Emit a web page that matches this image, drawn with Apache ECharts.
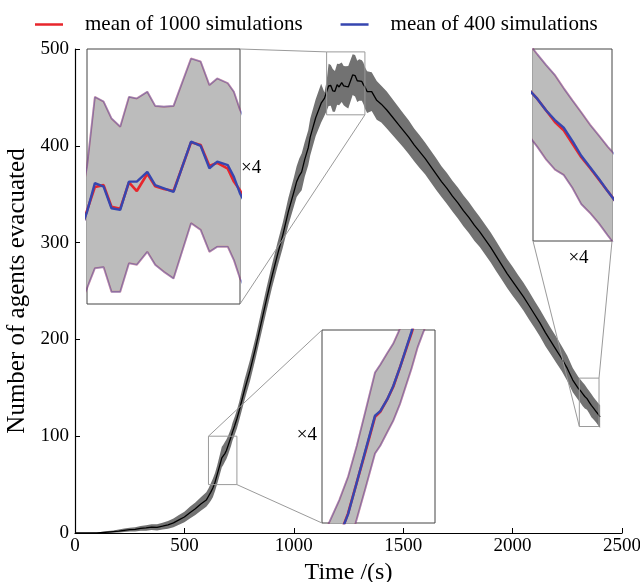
<!DOCTYPE html>
<html><head><meta charset="utf-8">
<script src="https://cdn.jsdelivr.net/npm/echarts@6/dist/echarts.min.js"></script>
<style>html,body{margin:0;padding:0;background:#fff}#c{width:640px;height:582px}</style>
</head><body><div id="c"></div>
<script>
// ---------- main curve (coarse readings outside the zoom windows) ----------
const mainTime = [0,50,100,150,175,200,225,250,275,300,325,350,375,400,425,450,475,500,525,550,575,
  775,800,825,850,875,900,925,950,975,1000,1013,1025,1036,1050,1066,1075,1100,1125,
  1356,1379,1400,1425,1450,1475,1500,1525,1550,1575,1600,1625,1650,1675,1700,1725,1750,1775,1800,1825,1850,1875,1900,1925,1950,1975,2000,2025,2050,2075,2100,2125,2150,2175,2200,2225,2250,2275];
const mainMean = [0,0,0,1,1.5,2,2.8,3.5,3.8,4.8,5.2,6,5.8,7,8.5,10.5,13.5,16.5,21,25,30,
  148,168,191,216,241,265,287,308,332,352,363,369,373,386,398,409,429,444,
  456,447,443,437,430,423,416,409,401,394,387,379,371,363,356,348,341,333,326,318,311,303,295,286,277,268,260,252,244,235,226,217,207,198,189,180,170,158];
const mainSpread = [0.3,0.3,0.5,1,1.2,1.5,1.8,2,2.2,2.5,2.8,3,3.2,3.5,4,4.5,5,5.5,6,6.5,7,
  10.5,11,11,11.5,12,12,12.5,13,14,15,16,18,19,18,18,19,19,20,
  20,20,19,19,18.5,18,17.5,17.5,17,17,16.5,16.5,16.5,16,16,16,16,16,16,16,15.5,15.5,15.5,15.5,15,15,15,14.5,14.5,14.5,14,14,14,13.5,13.5,13,13,12.5];

// ---------- zoom window 1: the peak ----------
const peakTime     = [1140,1150,1159,1169,1178,1188,1198,1207,1219,1228,1238,1249,1269,1280,1290,1299,1311,1318,1325,1335];
const peakMean1000 = [449,455.8,461.8,462.3,456.8,456.3,463,460.8,465.2,462,461.3,460.8,473.2,472.5,467.2,468,466.5,463.2,461,456];
const peakMean400  = [449,455.5,462.8,461.9,456.4,456.0,463.2,463.2,465.7,462.3,461.5,460.6,473.4,472.3,466.6,468.3,467.4,464.4,460.2,456];
const peakUpper    = [455,467,484.8,483.6,479.3,477.2,484.8,484.4,486.1,482.5,482.3,482.5,494.6,493.8,487.8,489.5,488.3,486.1,481.5,477];
const peakLower    = [431,436,441.1,441.4,435.1,435.1,442.4,442,445.3,442,440.2,438.5,452.6,450.9,445.3,446.6,446.6,443.2,438.5,434];

// ---------- zoom window 2: the tail ----------
const tailTime     = [2300,2310,2320,2330,2340,2350,2360,2370,2380,2390,2400];
const tailMean1000 = [149.5,147,144,141,138.8,135.3,131.8,129,126,123,120];
const tailMean400  = [149.5,147,144,141.5,139.5,136,132.2,129.2,126.2,123,120];
const tailUpper    = [161.5,158.6,155.8,153.2,149.8,146.6,143.5,140.3,137.5,134.6,132];
const tailLower    = [137.5,134.5,131.2,128.6,127.2,123.8,119.6,117.3,114.6,111.5,108.5];

// ---------- zoom window 3: the rise ----------
const riseTime     = [600,610,620,630,640,650,660,671,677,685,692,700,713,720,730,740,750];
const riseMean1000 = [34,38,42,46.5,52.5,60.5,68.5,77.5,78.8,82,85.3,90.5,99.2,104.5,111,118,126];
const riseMean400  = [34,38,42.2,46.5,52.3,60.5,68.8,77.8,79,82,85.5,90.5,99.6,105,111,118,126];
const riseUpper    = [42,46,51,56,62,70,79,89,91,94,96.5,100.5,108,114,120,127,135];
const riseLower    = [27,30,33,37,43.5,51,59,68,70,73.5,76.5,81,90,95.5,101.5,108,116];

// ---------- axes ----------
const xTicks = [0,500,1000,1500,2000,2500];
const yTicks = [0,100,200,300,400,500];
const legendNames = ['mean of 1000 simulations','mean of 400 simulations'];
const zoomLabel = '×4';

// ---------- layout / style ----------
const FONT = '"Liberation Serif", "Times New Roman", serif';
const RED = '#e8262c', BLUE = '#3646b0';
const MAIN = {left:75, top:49, width:547, height:484};
const insets = [
  {grid:{left:87, top:49, width:153, height:255}, x:[1150,1325], y:[432,497],
   t:peakTime, m1:peakMean1000, m4:peakMean400, up:peakUpper, lo:peakLower},
  {grid:{left:533, top:49, width:79, height:192}, x:[2305,2395], y:[110,160],
   t:tailTime, m1:tailMean1000, m4:tailMean400, up:tailUpper, lo:tailLower},
  {grid:{left:322, top:330, width:113, height:193}, x:[610,740], y:[50,100],
   t:riseTime, m1:riseMean1000, m4:riseMean400, up:riseUpper, lo:riseLower}
];

// merged main series
const rows = [];
mainTime.forEach((t,i)=>rows.push([t, mainMean[i], mainMean[i]-mainSpread[i], mainMean[i]+mainSpread[i]]));
insets.forEach(s=>s.t.forEach((t,i)=>rows.push([t, s.m1[i], s.lo[i], s.up[i]])));
rows.sort((a,b)=>a[0]-b[0]);

// band polygon drawn through the axes' scales (api.coord)
function bandSeries(gi, times, lo, hi, color) {
  return {
    type:'custom', xAxisIndex:gi, yAxisIndex:gi, clip:true, silent:true,
    data: times.map((t,i)=>[t, lo[i], hi[i]]),
    encode:{x:0, y:[1,2]},
    renderItem:function(params, api){
      if (params.dataIndex !== 0) return null;
      const pts = [];
      for (let i=0;i<times.length;i++) pts.push(api.coord([times[i], hi[i]]));
      for (let i=times.length-1;i>=0;i--) pts.push(api.coord([times[i], lo[i]]));
      return {type:'polygon', shape:{points:pts}, style:{fill:color, stroke:null}};
    }
  };
}

const grids = [Object.assign({show:false, outerBoundsMode:'none', containLabel:false}, MAIN)];
const xAxes = [{
  type:'value', gridIndex:0, min:xTicks[0], max:xTicks[xTicks.length-1], interval:500,
  name:'Time /(s)', nameLocation:'middle', nameGap:21,
  nameTextStyle:{fontFamily:FONT, fontSize:24, color:'#000'},
  axisLine:{lineStyle:{color:'#000', width:1.2}},
  axisTick:{inside:true, length:5, lineStyle:{color:'#000'}},
  axisLabel:{fontFamily:FONT, fontSize:19, color:'#000', margin:4, formatter:v=>String(v)},
  splitLine:{show:false}
}];
const yAxes = [{
  type:'value', gridIndex:0, min:yTicks[0], max:yTicks[yTicks.length-1], interval:100,
  name:'Number of agents evacuated', nameLocation:'middle', nameGap:36,
  nameTextStyle:{fontFamily:FONT, fontSize:25, color:'#000'},
  axisLine:{lineStyle:{color:'#000', width:1.2}},
  axisTick:{inside:true, length:5, lineStyle:{color:'#000'}},
  axisLabel:{fontFamily:FONT, fontSize:19, color:'#000', margin:6, formatter:v=>String(v)},
  splitLine:{show:false}
}];
const series = [
  bandSeries(0, rows.map(r=>r[0]), rows.map(r=>r[2]), rows.map(r=>r[3]), '#727272'),
  {type:'line', xAxisIndex:0, yAxisIndex:0, symbol:'none', silent:true,
   data:rows.map(r=>[r[0], r[1]]), lineStyle:{color:'#000', width:1.3}}
];

insets.forEach((s,k)=>{
  const gi = k+1;
  grids.push(Object.assign({show:true, borderColor:'#444', borderWidth:1, backgroundColor:'#fff',
    outerBoundsMode:'none', containLabel:false}, s.grid));
  xAxes.push({type:'value', gridIndex:gi, min:s.x[0], max:s.x[1], show:false});
  yAxes.push({type:'value', gridIndex:gi, min:s.y[0], max:s.y[1], show:false});
  const pair = arr => s.t.map((t,i)=>[t, arr[i]]);
  const base = {type:'line', xAxisIndex:gi, yAxisIndex:gi, symbol:'none', silent:true, clip:true};
  series.push(bandSeries(gi, s.t, s.lo, s.up, '#bcbcbc'));
  [s.up, s.lo].forEach(a=>{
    series.push(Object.assign({}, base, {data:pair(a), lineStyle:{color:RED, width:2.0, opacity:0.35}}));
    series.push(Object.assign({}, base, {data:pair(a), lineStyle:{color:BLUE, width:1.6, opacity:0.45}}));
  });
  series.push(Object.assign({}, base, {name:legendNames[0], color:RED, itemStyle:{color:RED},
     data:pair(s.m1), lineStyle:{color:RED, width:2.6}}));
  series.push(Object.assign({}, base, {name:legendNames[1], color:BLUE, itemStyle:{color:BLUE},
     data:pair(s.m4), lineStyle:{color:BLUE, width:2.4}}));
});

const chart = echarts.init(document.getElementById('c'), null, {renderer:'canvas'});
chart.setOption({
  animation:false,
  backgroundColor:'#fff',
  grid:grids, xAxis:xAxes, yAxis:yAxes, series:series,
  legend:{
    data:legendNames, left:30, top:9, itemGap:38,
    icon:'path://M0,0H28V2.5H0ZM44.99,0H45V0.01H44.99Z', itemWidth:45, itemHeight:2.5,
    textStyle:{fontFamily:FONT, fontSize:21, color:'#000'},
    selectedMode:false
  }
});

// zoom rectangles, connector lines and "x4" labels, placed through the axes' scales
const px = (g, x, y) => chart.convertToPixel({gridIndex:g}, [x, y]);
const gfx = [];
const LINE = {stroke:'#9a9a9a', lineWidth:1};
const corner = (g, s) => ({
  tl: px(g, s.x[0], s.y[1]), tr: px(g, s.x[1], s.y[1]),
  bl: px(g, s.x[0], s.y[0]), br: px(g, s.x[1], s.y[0])
});
const line = (a,b) => gfx.push({type:'line', silent:true, z:50, shape:{x1:a[0],y1:a[1],x2:b[0],y2:b[1]}, style:LINE});
const links = [
  [['tr','tl'],['br','br']],
  [['bl','bl'],['br','tr']],
  [['tl','tl'],['bl','br']]
];
insets.forEach((s,k)=>{
  const ins = corner(k+1, s), rec = corner(0, s);
  gfx.push({type:'rect', silent:true, z:50,
    shape:{x:rec.tl[0], y:rec.tl[1], width:rec.br[0]-rec.tl[0], height:rec.br[1]-rec.tl[1]},
    style:{fill:'none', stroke:'#9a9a9a', lineWidth:1}});
  links[k].forEach(([a,b])=>line(ins[a], rec[b]));
});
const c1 = corner(1, insets[0]), c2 = corner(2, insets[1]), c3 = corner(3, insets[2]);
const txt = (x,y,align) => gfx.push({type:'text', silent:true, z:60, x:x, y:y,
  style:{text:zoomLabel, font:'19px ' + FONT, fill:'#000', align:align, verticalAlign:'middle',
         textAlign:align, textVerticalAlign:'middle'}});
txt(c1.tr[0]+1, c1.tr[1]+119, 'left');
txt((c2.bl[0]+c2.br[0])/2+6, c2.bl[1]+17, 'center');
txt(c3.tl[0]-5, c3.tl[1]+105, 'right');
chart.setOption({graphic:{elements:gfx}});
</script></body></html>
